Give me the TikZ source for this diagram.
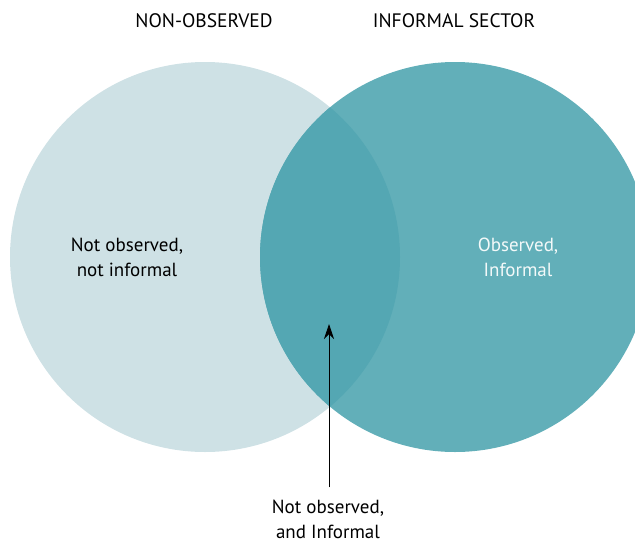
\documentclass[tikz,border=0pt]{standalone}
\usepackage{fontspec}
\setmainfont{PT Sans}
\usetikzlibrary{arrows.meta}
\definecolor{lightteal}{RGB}{206,225,229}
\definecolor{teal}{RGB}{98,175,185}
\definecolor{deepteal}{RGB}{84,167,179}

\begin{document}
\begin{tikzpicture}[x=1pt, y=-1pt, font=\fontsize{19}{25}\selectfont]
   \clip (0,0) rectangle (635,542);
   \fill[lightteal] (205,257) circle (195);
   \fill[teal] (455,257) circle (195);
   \begin{scope}
     \clip (205,257) circle (195);
     \fill[deepteal] (455,257) circle (195);
   \end{scope}

   \begin{scope}[font=\fontsize{19.5}{25}\selectfont]
     \node (nonobs) at (204,21) {NON-OBSERVED};
     \node (informal) at (454,21) {INFORMAL SECTOR};
   \end{scope}
   \node[align=center] (notnot) at (127,257) {Not observed,\\not informal};
   \node[align=center, text=white!92!teal] (obsinf) at (518,257) {Observed,\\Informal};
   \node[align=center, inner sep=0pt] (and) at (328,519) {Not observed,\\and Informal};
   \coordinate (overlap) at (329,324);

   \draw[thick, shorten <=12pt, -{Stealth[length=15pt, width=10pt]}] (overlap |- and.north) -- (overlap);
\end{tikzpicture}
\end{document}
